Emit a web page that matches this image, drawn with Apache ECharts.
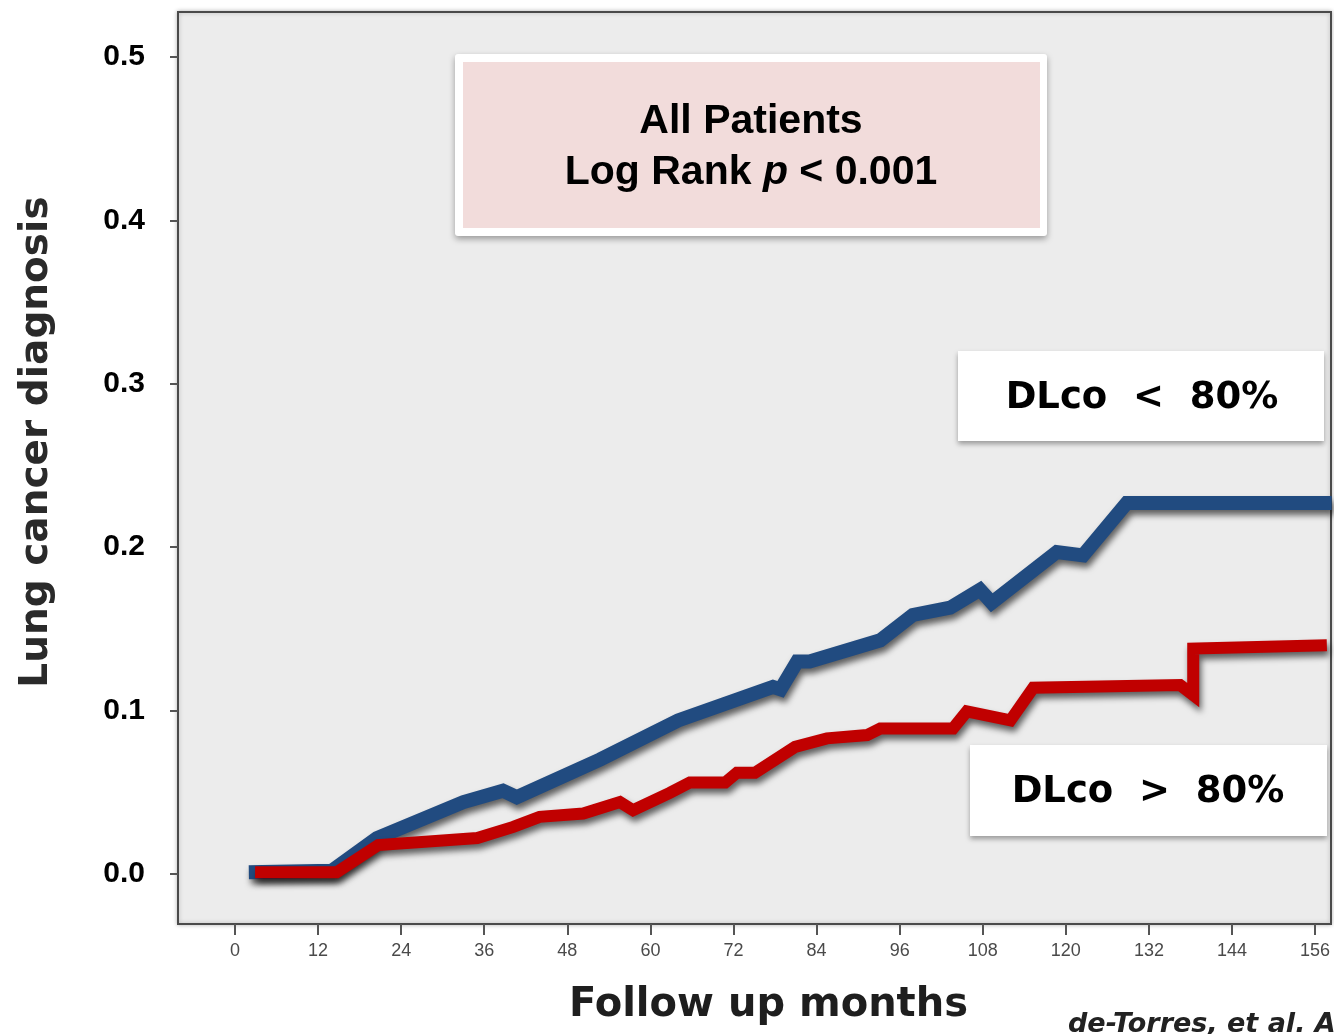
<!DOCTYPE html>
<html>
<head>
<meta charset="utf-8">
<script src="https://cdn.jsdelivr.net/npm/echarts@6/dist/echarts.min.js"></script>
<style>
  html, body { margin: 0; padding: 0; background: #ffffff; }
  #chart { width: 1334px; height: 1034px; }
</style>
</head>
<body>
<div id="chart"></div>
<script>
// ---- Data ----
const xTickValues = [0, 12, 24, 36, 48, 60, 72, 84, 96, 108, 120, 132, 144, 156];
const yTickValues = [0.0, 0.1, 0.2, 0.3, 0.4, 0.5];

// DLco < 80% (blue)
const blueMonths = [2, 14, 20.5, 33, 38.7, 40.7, 52.7, 64, 77.7, 78.8, 81.2, 83, 93.2, 97.9, 103.3, 107.6, 109.3, 118.7, 122.5, 128.8, 158.4];
const blueValues = [0.001, 0.002, 0.022, 0.044, 0.051, 0.047, 0.070, 0.094, 0.1145, 0.113, 0.130, 0.130, 0.143, 0.1585, 0.163, 0.174, 0.166, 0.197, 0.195, 0.227, 0.227];

// DLco > 80% (red)
const redMonths = [2.9, 14.7, 20.7, 35, 40.2, 44, 50.3, 55.6, 57.5, 62.8, 65.7, 70.8, 72.5, 75.1, 80.9, 85.5, 91.3, 93.2, 103.7, 105.7, 112, 115.3, 136.5, 138.4, 138.4, 157.7];
const redValues = [0.001, 0.001, 0.0177, 0.022, 0.0288, 0.035, 0.037, 0.044, 0.039, 0.0496, 0.056, 0.056, 0.062, 0.062, 0.0778, 0.083, 0.085, 0.089, 0.089, 0.0995, 0.094, 0.114, 0.1157, 0.1095, 0.138, 0.140];

const blueData = blueMonths.map((m, i) => [m, blueValues[i]]);
const redData = redMonths.map((m, i) => [m, redValues[i]]);

const chart = echarts.init(document.getElementById('chart'), null, { renderer: 'canvas' });

const titleFont = '"DejaVu Sans", Verdana, sans-serif';

chart.setOption({
  backgroundColor: '#ffffff',
  animation: false,
  grid: {
    left: 178, top: 12, right: 3, bottom: 110,
    show: true,
    backgroundColor: '#ececec',
    borderColor: '#4a4a4a',
    borderWidth: 2,
    shadowColor: 'rgba(0,0,0,0.25)',
    shadowBlur: 4
  },
  xAxis: {
    type: 'value',
    min: -8.23,
    max: 158.3,
    name: 'Follow up months',
    nameLocation: 'middle',
    nameGap: 62,
    nameTextStyle: {
      fontFamily: titleFont, fontWeight: 'bold', fontSize: 40, color: '#1e1e1e',
      padding: [0, 0, 0, 28]
    },
    axisLine: { show: false, onZero: false },
    splitLine: { show: false },
    axisTick: {
      show: true, customValues: xTickValues, length: 11, inside: false,
      lineStyle: { color: '#555', width: 2 }
    },
    axisLabel: {
      show: true, customValues: xTickValues, margin: 18,
      color: '#4a4a4a', fontFamily: '"Liberation Sans", Arial, sans-serif', fontSize: 18,
      formatter: v => String(Math.round(v))
    }
  },
  yAxis: {
    type: 'value',
    min: -0.0306,
    max: 0.5275,
    name: 'Lung cancer diagnosis',
    nameLocation: 'middle',
    nameGap: 122,
    nameRotate: 90,
    nameTextStyle: {
      fontFamily: titleFont, fontWeight: 'bold', fontSize: 39, color: '#2a2a2a',
      padding: [0, 0, 0, 52]
    },
    axisLine: { show: false, onZero: false },
    splitLine: { show: false },
    axisTick: {
      show: true, customValues: yTickValues, length: 8, inside: false,
      lineStyle: { color: '#555', width: 2 }
    },
    axisLabel: {
      show: true, customValues: yTickValues, margin: 33,
      color: '#000', fontFamily: '"Liberation Sans", Arial, sans-serif', fontWeight: 'bold', fontSize: 30,
      formatter: v => v.toFixed(1)
    }
  },
  series: [
    {
      name: 'DLco < 80%',
      type: 'line',
      data: blueData,
      showSymbol: false,
      symbol: 'none',
      z: 3,
      lineStyle: {
        color: '#214b80', width: 14, cap: 'butt', join: 'miter',
        shadowColor: 'rgba(0,0,0,0.6)', shadowBlur: 6, shadowOffsetX: 2, shadowOffsetY: 5
      }
    },
    {
      name: 'DLco > 80%',
      type: 'line',
      data: redData,
      showSymbol: false,
      symbol: 'none',
      z: 4,
      lineStyle: {
        color: '#c00000', width: 12, cap: 'butt', join: 'miter',
        shadowColor: 'rgba(0,0,0,0.6)', shadowBlur: 6, shadowOffsetX: 2, shadowOffsetY: 5
      }
    }
  ],
  graphic: [
    // "All Patients" box
    {
      type: 'rect', z: 100,
      shape: { x: 455, y: 54, width: 592, height: 182, r: 3 },
      style: { fill: '#ffffff', shadowColor: 'rgba(0,0,0,0.35)', shadowBlur: 6, shadowOffsetY: 3 }
    },
    {
      type: 'rect', z: 101,
      shape: { x: 463, y: 62, width: 577, height: 166 },
      style: { fill: '#f2dcdb' }
    },
    {
      type: 'text', z: 102,
      x: 751, y: 147,
      style: {
        text: '{a|All Patients}\n{a|Log Rank }{i|p}{a| < 0.001}',
        align: 'center', verticalAlign: 'middle',
        rich: {
          a: { fontFamily: '"Liberation Sans", Arial, sans-serif', fontWeight: 'bold', fontSize: 41, lineHeight: 51, fill: '#000' },
          i: { fontFamily: '"Liberation Sans", Arial, sans-serif', fontWeight: 'bold', fontStyle: 'italic', fontSize: 41, lineHeight: 51, fill: '#000' }
        }
      }
    },
    // DLco < 80% label box
    {
      type: 'rect', z: 100,
      shape: { x: 958, y: 351, width: 366, height: 90 },
      style: { fill: '#ffffff', shadowColor: 'rgba(0,0,0,0.35)', shadowBlur: 5, shadowOffsetY: 3 }
    },
    {
      type: 'text', z: 102,
      x: 1142, y: 398,
      style: {
        text: 'DLco  <  80%',
        align: 'center', verticalAlign: 'middle',
        fontFamily: titleFont, fontWeight: 'bold', fontSize: 37, fill: '#000'
      }
    },
    // DLco > 80% label box
    {
      type: 'rect', z: 100,
      shape: { x: 970, y: 745, width: 357, height: 91 },
      style: { fill: '#ffffff', shadowColor: 'rgba(0,0,0,0.35)', shadowBlur: 5, shadowOffsetY: 3 }
    },
    {
      type: 'text', z: 102,
      x: 1148, y: 792,
      style: {
        text: 'DLco  >  80%',
        align: 'center', verticalAlign: 'middle',
        fontFamily: titleFont, fontWeight: 'bold', fontSize: 37, fill: '#000'
      }
    },
    // citation (cut off at the page edge, as in the reference)
    {
      type: 'text', z: 102,
      x: 1068, y: 1025,
      style: {
        text: 'de-Torres, et al. A',
        align: 'left', verticalAlign: 'middle',
        fontFamily: titleFont, fontWeight: 'bold', fontStyle: 'italic', fontSize: 27, fill: '#222'
      }
    }
  ]
});
</script>
</body>
</html>
